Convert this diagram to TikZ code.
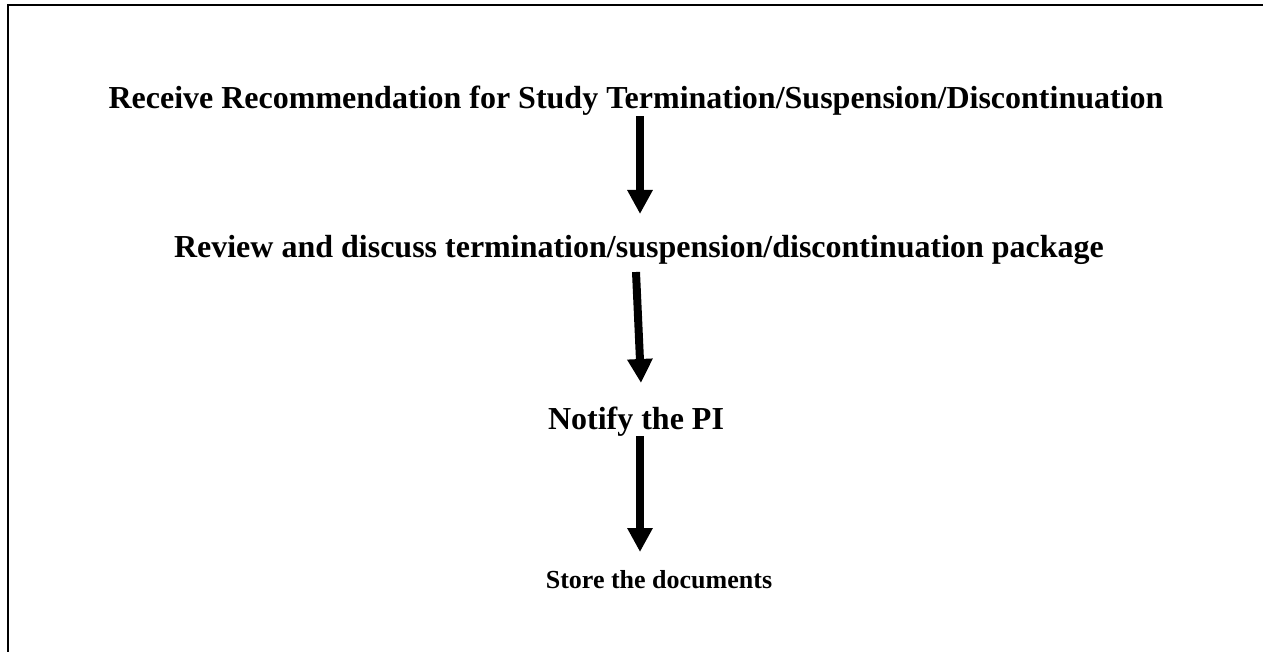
\documentclass[tikz,border=0pt]{standalone}
\usepackage{fontspec}
\setmainfont{Liberation Serif}
\usetikzlibrary{arrows.meta}
\tikzset{
  lbl/.style={anchor=base, inner sep=0pt, font=\fontsize{16pt}{19pt}\selectfont\bfseries},
  smalllbl/.style={anchor=base, inner sep=0pt, font=\fontsize{13pt}{16pt}\selectfont\bfseries},
  arr/.style={line width=4pt, -{Triangle[width=12pt,length=12pt]}},
  frame/.style={line width=1pt}
}
\begin{document}
\begin{tikzpicture}[x=0.5pt,y=-0.5pt]
\useasboundingbox (0,0) rectangle (1263,652);
\draw[frame] (8,670) -- (8,5) -- (1280,5);
\node[lbl] (n1) at (636,109) {Receive Recommendation for Study Termination/Suspension/Discontinuation};
\node[lbl] (n2) at (639,257) {Review and discuss termination/suspension/discontinuation package};
\node[lbl] (n3) at (636,429) {Notify the PI};
\node[smalllbl] (n4) at (659,588) {Store the documents};
\coordinate (a1s) at (n1.south -| 640,0);
\coordinate (a1e) at (640,214);
\coordinate (a2s) at (636,272);
\coordinate (a2e) at (641,383);
\coordinate (a3s) at (n3.south -| 640,0);
\coordinate (a3e) at (640,552);
\draw[arr] (a1s) -- (a1e);
\draw[arr] (a2s) -- (a2e);
\draw[arr] (a3s) -- (a3e);
\end{tikzpicture}
\end{document}
